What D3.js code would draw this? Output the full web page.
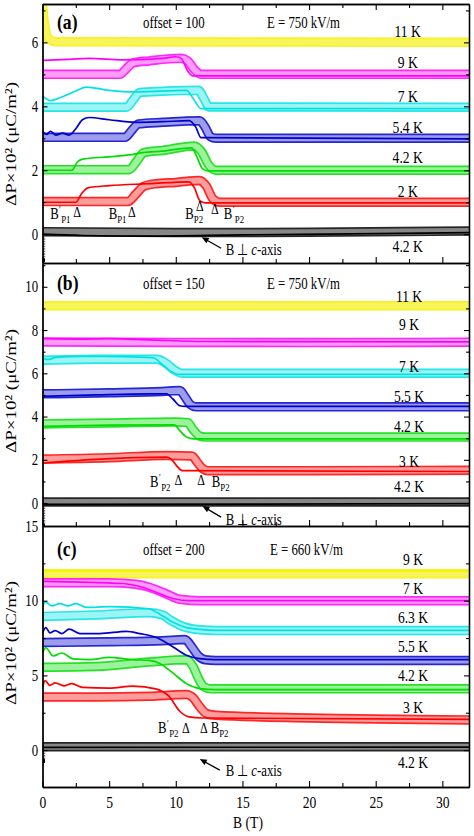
<!DOCTYPE html>
<html><head><meta charset="utf-8">
<script src="https://cdn.jsdelivr.net/npm/d3@7"></script>
<style>body{margin:0;background:#fff}svg{display:block}</style>
</head><body>
<svg id="chart" width="474" height="836"></svg>
<script>
// ---------------- DATA ----------------
const bMajor = [0,5,10,15,20,25,30];
const bMinor = [2.5,7.5,12.5,17.5,22.5,27.5];
const xTickLabels = ['0','5','10','15','20','25','30'];

// Panel (a): offset = 100, E = 750 kV/m
const aTemps = ['11 K','9 K','7 K','5.4 K','4.2 K','2 K','4.2 K'];
const aYMajor = [0,2,4,6];
const aYMinor = [1,3,5,7];
const a11K_band = [[0,7.2],[0.1,6.75],[0.25,6.35],[0.5,6.1],[1,6.02],[32,6.0]];
const a9K_band  = [[0,5.0],[5.8,5.0],[6.3,5.18],[6.8,5.36],[8,5.42],[10.4,5.5],[10.9,5.42],[11.4,5.15],[11.9,5.0],[32,5.0]];
const a9K_line  = [[0,5.44],[2,5.47],[3.5,5.5],[6,5.45],[9,5.5],[10,5.55],[10.4,5.5],[10.9,5.1],[11.3,4.95],[32,4.95]];
const a7K_band  = [[0,3.97],[6.3,3.97],[6.8,4.2],[7.3,4.43],[9,4.47],[11.7,4.5],[12.1,4.25],[12.5,3.98],[32,3.97]];
const a7K_line  = [[0,4.32],[0.6,4.18],[1.5,4.3],[2.5,4.48],[3.3,4.6],[5,4.5],[7,4.45],[10.8,4.5],[11.3,4.25],[11.9,3.93],[32,3.93]];
const a54K_band = [[0,3.03],[6.2,3.03],[6.7,3.25],[7.2,3.45],[9,3.5],[11.8,3.55],[12.2,3.35],[12.6,3.05],[13,3.0],[32,3.0]];
const a54K_line = [[0,3.22],[0.3,3.12],[0.6,3.22],[1.0,3.1],[1.5,3.16],[2.0,3.1],[2.5,3.3],[3.0,3.58],[3.5,3.65],[5,3.58],[7,3.5],[9,3.52],[11,3.55],[11.5,3.35],[11.9,3.02],[32,2.98]];
const a42K_band = [[0,2.02],[6.5,2.02],[7.1,2.3],[7.6,2.55],[9,2.62],[11.4,2.76],[11.9,2.6],[12.5,2.15],[13,2.0],[32,2.0]];
const a42K_line = [[0,2.0],[2.2,2.0],[2.6,2.25],[3,2.35],[5,2.42],[6.5,2.48],[7.5,2.55],[9,2.6],[11.2,2.7],[11.6,2.4],[12,2.05],[12.4,1.98],[32,1.98]];
const a2K_band  = [[0,1.02],[6.4,1.02],[7.0,1.25],[7.6,1.5],[8.5,1.58],[10,1.62],[11.8,1.68],[12.3,1.5],[12.8,1.1],[13.3,1.0],[32,1.0]];
const a2K_line  = [[0,1.0],[2.5,1.0],[2.9,1.25],[3.4,1.45],[5,1.52],[8,1.58],[11,1.64],[11.4,1.45],[11.8,1.05],[12.2,0.98],[32,0.98]];
const aK_black_band = [[0,0.08],[10,0.05],[20,0.06],[32,0.1]];
const aK_black_line = [[0,0.0],[3,-0.04],[8,-0.06],[15,-0.02],[25,0.02],[32,0.05]];
const aInit = [-0.05,-0.75];
const aMarkB = [2.6,6.7,11.8,12.93];
const aMarkLabB = [2.1,6.3,12.05,13.6];
const aMarkNames = [['′','P1'],['','P1'],['','P2'],['′','P2']];

// Panel (b): offset = 150, E = 750 kV/m
const bTemps = ['11 K','9 K','7 K','5.5 K','4.2 K','3 K','4.2 K'];
const bYMajor = [0,2,4,6,8,10];
const bYMinor = [1,3,5,7,9,11];
const b11K_band = [[0,9.12],[32,9.12]];
const b9K_band  = [[0,7.45],[10,7.43],[20,7.42],[32,7.44]];
const b9K_line  = [[0,7.6],[3,7.58],[5,7.6],[8,7.55],[12,7.47],[32,7.45]];
const b7K_band  = [[0,6.6],[4,6.65],[8.6,6.65],[9.3,6.45],[9.9,6.15],[10.5,6.0],[32,6.0]];
const b7K_line  = [[0,6.68],[0.5,6.64],[1,6.74],[3,6.78],[6,6.77],[8.3,6.72],[9,6.4],[9.6,6.1],[10.2,5.95],[32,5.95]];
const b55K_band = [[0,5.05],[5,5.1],[9,5.16],[10.3,5.2],[10.7,4.9],[11.1,4.55],[11.5,4.45],[32,4.45]];
const b55K_line = [[0,4.93],[4,5.0],[8,5.05],[9.3,5.05],[9.8,4.8],[10.3,4.5],[10.7,4.47],[32,4.47]];
const b42K_band = [[0,3.66],[5,3.7],[10,3.75],[10.9,3.72],[11.3,3.4],[11.8,3.1],[12.2,3.05],[32,3.05]];
const b42K_line = [[0,3.55],[5,3.6],[9.9,3.62],[10.3,3.35],[10.8,3.05],[11.3,2.97],[32,2.97]];
const b3K_band  = [[0,2.04],[5,2.1],[9.3,2.2],[11.2,2.18],[11.6,1.9],[12,1.6],[12.4,1.5],[20,1.5],[32,1.52]];
const b3K_line  = [[0,1.85],[4,2.02],[9.3,2.12],[9.7,2.0],[10.1,1.7],[10.5,1.5],[32,1.46]];
const bK_black_band = [[0,0.05],[32,0.05]];
const bK_black_line = [[0,-0.06],[32,-0.03]];
const bInit = [-0.2,-0.95];
const bMarkB = [10.2,11.9];
const bMarkLabB = [9.6,12.7];
const bMarkNames = [['′','P2'],['','P2']];

// Panel (c): offset = 200, E = 660 kV/m
const cTemps = ['9 K','7 K','6.3 K','5.5 K','4.2 K','3 K','4.2 K'];
const cYMajor = [0,5,10,15];
const cYMinor = [2.5,7.5,12.5];
const c9K_band  = [[0,11.8],[32,11.8]];
const c9K_line  = [[0,12.0],[32,12.0]];
const c7K_band  = [[0,11.2],[5,11.2],[7,11.1],[8,10.9],[9.3,10.45],[10.3,10.1],[11.8,10.0],[32,10.0]];
const c7K_line  = [[0,11.3],[6,11.15],[7.5,10.9],[8.7,10.5],[9.8,10.15],[11,10.0],[32,10.0]];
const c63K_band = [[0,8.95],[4,9.05],[8,9.2],[9,9.05],[9.6,8.7],[10.6,8.25],[11.8,8.05],[13,8.0],[32,8.0]];
const c63K_line = [[0,9.65],[0.25,9.9],[0.7,9.65],[1.3,9.8],[1.9,9.65],[2.5,9.8],[3.3,9.55],[5,9.6],[8,9.45],[8.8,9.1],[9.8,8.55],[10.8,8.2],[11.8,8.08],[13,8.02],[32,8.02]];
const c55K_band = [[0,7.2],[5,7.25],[9,7.32],[10.7,7.4],[11.2,6.9],[11.7,6.3],[12.2,6.05],[13,6.0],[32,6.0]];
const c55K_line = [[0,7.85],[0.25,8.2],[0.55,7.85],[0.95,8.0],[1.45,7.8],[2,8.1],[2.8,7.8],[4.3,7.8],[6.3,7.95],[7.3,7.8],[8.5,7.55],[9.8,6.9],[10.8,6.35],[11.8,6.12],[13,6.05],[32,6.05]];
const c42K_band = [[0,5.55],[4,5.6],[8,5.9],[10.8,6.05],[11.3,5.6],[11.7,4.8],[12.1,4.25],[12.6,4.1],[32,4.1]];
const c42K_line = [[0,6.5],[0.25,6.85],[0.8,6.3],[1.45,6.5],[2.3,6.1],[3.5,6.05],[5,6.2],[6.8,6.05],[8,6.0],[8.8,5.8],[9.8,5.15],[10.8,4.45],[11.8,4.12],[13,4.05],[32,4.05]];
const c3K_band  = [[0,3.55],[4,3.55],[8,3.6],[10.8,3.72],[11.3,3.5],[11.8,2.9],[12.3,2.45],[13,2.33],[20,2.15],[32,2.02]];
const c3K_line  = [[0,4.2],[0.2,4.65],[0.55,4.33],[0.95,4.5],[1.6,4.3],[2.2,4.45],[3,4.2],[5,4.15],[6.8,4.28],[8.5,4.1],[9.5,3.6],[10.3,2.6],[11,2.22],[12,2.15],[32,2.05]];
const cK_black_band = [[0,0.22],[32,0.22]];
const cK_black_line = [[0,0.18],[32,0.2]];
const cInit = [0.0,-0.6];
const cMarkB = [10.75,12.1];
const cMarkLabB = [10.2,12.62];
const cMarkNames = [['′','P2'],['','P2']];

// ---------------- DRAWING ----------------
const colors = ['#f4f000','#ff00ff','#00e2e2','#0000cc','#00dd00','#ff0000','#000000'];
const FONT = "'Liberation Serif','Times New Roman',serif";
const SX = 0.8;
const BW = 9.5;
const svg = d3.select('#chart');
const defs = svg.append('defs');
const x = d3.scaleLinear().domain([0,32]).range([42.5,469]);

const panels = [
  {key:'a', top:4, bottom:263, domain:[-0.9,7.2], major:aYMajor, minor:aYMinor, temps:aTemps,
   bands:[a11K_band,a9K_band,a7K_band,a54K_band,a42K_band,a2K_band,aK_black_band],
   lines:[null,a9K_line,a7K_line,a54K_line,a42K_line,a2K_line,aK_black_line],
   init:aInit, markB:aMarkB, markLabB:aMarkLabB, markNames:aMarkNames,
   markSide:['l','l','l','r'], markDy:[-17,-17,-23,-20], markLabDy:-15,
   labB:27.4, labDy:[-5,-6,-5,-5,-7,-5,21],
   letter:'(a)', offset:'offset = 100', field:'E = 750 kV/m', headY:28, fieldX:267,
   arrow:{tailB:13.4, tailDy:14, tipB:11.95, tipDy:3, textDy:21}, yLab:144},
  {key:'b', top:263, bottom:526, domain:[-1.06,11.1], major:bYMajor, minor:bYMinor, temps:bTemps,
   bands:[b11K_band,b9K_band,b7K_band,b55K_band,b42K_band,b3K_band,bK_black_band],
   lines:[null,b9K_line,b7K_line,b55K_line,b42K_line,b3K_line,bK_black_line],
   init:bInit, markB:bMarkB, markLabB:bMarkLabB, markNames:bMarkNames,
   markSide:['l','r'], markDy:[-18,-18], markLabDy:-16,
   labB:27.5, labDy:[-4,-12,-1,-5,-5,-3,-10],
   letter:'(b)', offset:'offset = 150', field:'E = 750 kV/m', headY:289, fieldX:267,
   arrow:{tailB:13.4, tailDy:14, tipB:12.0, tipDy:3, textDy:22}, yLab:391},
  {key:'c', top:526, bottom:787, domain:[-2.47,15], major:cYMajor, minor:cYMinor, temps:cTemps,
   bands:[c9K_band,c7K_band,c63K_band,c55K_band,c42K_band,c3K_band,cK_black_band],
   lines:[c9K_line,c7K_line,c63K_line,c55K_line,c42K_line,c3K_line,cK_black_line],
   init:cInit, markB:cMarkB, markLabB:cMarkLabB, markNames:cMarkNames,
   markSide:['l','r'], markDy:[-17,-17], markLabDy:-17,
   labB:27.8, labDy:[-9,-7,-8,-8,-8,-7,21],
   letter:'(c)', offset:'offset = 200', field:'E = 660 kV/m', headY:555, fieldX:270,
   arrow:{tailB:13.3, tailDy:20, tipB:11.8, tipDy:9, textDy:26}, yLab:643}
];

function txt(g, px, py, s, size, anchor, weight){
  return g.append('text').attr('transform',`translate(${px},${py}) scale(${SX},1)`)
    .attr('font-family',FONT).attr('font-size',size||15).attr('text-anchor',anchor||'start')
    .attr('font-weight',weight||'normal').attr('fill','#000').text(s);
}
function bLabel(g, px, py, prime, sub, anchor){
  const t = g.append('text').attr('transform',`translate(${px},${py}) scale(${SX},1)`)
    .attr('font-family',FONT).attr('font-size',16).attr('text-anchor',anchor).attr('fill','#000');
  t.append('tspan').text('B');
  if (prime){
    t.append('tspan').attr('font-size',10).attr('dy',-6).attr('dx',0.5).text(prime);
    t.append('tspan').attr('font-size',11).attr('dy',10).attr('dx',0.5).text(sub);
  } else {
    t.append('tspan').attr('font-size',11).attr('dy',4).text(sub);
  }
}

panels.forEach(p=>{
  const y = d3.scaleLinear().domain(p.domain).range([p.bottom,p.top]);
  const g = svg.append('g');
  const clipId = 'clip-'+p.key;
  defs.append('clipPath').attr('id',clipId).append('rect')
    .attr('x',x(0)).attr('y',p.top).attr('width',x(32)-x(0)).attr('height',p.bottom-p.top);
  const plot = g.append('g').attr('clip-path',`url(#${clipId})`);
  const line = d3.line().x(d=>x(d[0])).y(d=>y(d[1])).curve(d3.curveMonotoneX);

  // bands (open-circle sweeps)
  p.bands.forEach((b,i)=>{
    plot.append('path').attr('d',line(b)).attr('fill','none').attr('stroke',colors[i])
      .attr('stroke-width',BW).attr('stroke-linejoin','round').attr('stroke-opacity',0.85);
    plot.append('path').attr('d',line(b)).attr('fill','none').attr('stroke','#fff')
      .attr('stroke-width',BW-3.4).attr('stroke-linejoin','round')
      .attr('stroke-opacity', i===0 ? 0.25 : (i===6 ? 0.45 : 0.55));
  });
  // thin lines (other sweep)
  p.lines.forEach((l,i)=>{
    if(!l) return;
    plot.append('path').attr('d',line(l)).attr('fill','none').attr('stroke',colors[i])
      .attr('stroke-width',1.7).attr('stroke-linejoin','round');
  });
  // initial points at B = 0
  plot.append('line').attr('x1',x(0)+1.5).attr('x2',x(0)+1.5)
    .attr('y1',y(p.init[0])).attr('y2',y(p.init[1]))
    .attr('stroke','#777').attr('stroke-width',2.5).attr('stroke-dasharray','1.5 1');
  plot.append('rect').attr('x',x(0)).attr('width',2.5)
    .attr('y',y(p.init[1])).attr('height',4).attr('fill','#000');

  // axes
  const axG = g.append('g').attr('font-family',FONT);
  const bottom = axG.append('g').attr('transform',`translate(0,${p.bottom})`)
    .call(d3.axisBottom(x).tickValues(bMajor).tickSize(-6).tickSizeOuter(0)
      .tickFormat((d,i)=> p.key==='c' ? xTickLabels[i] : ''));
  axG.append('g').attr('transform',`translate(0,${p.bottom})`)
    .call(d3.axisBottom(x).tickValues(bMinor).tickSize(-4).tickSizeOuter(0).tickFormat(''));
  if (p.key==='a'){
    axG.append('g').attr('transform',`translate(0,${p.top})`)
      .call(d3.axisTop(x).tickValues(bMajor).tickSize(-6).tickSizeOuter(0).tickFormat(''));
    axG.append('g').attr('transform',`translate(0,${p.top})`)
      .call(d3.axisTop(x).tickValues(bMinor).tickSize(-4).tickSizeOuter(0).tickFormat(''));
  }
  const left = axG.append('g').attr('transform',`translate(${x(0)},0)`)
    .call(d3.axisLeft(y).tickValues(p.major).tickSize(-5).tickSizeOuter(0).tickPadding(5.5).tickFormat(d3.format('d')));
  axG.append('g').attr('transform',`translate(${x(0)},0)`)
    .call(d3.axisLeft(y).tickValues(p.minor).tickSize(-3).tickSizeOuter(0).tickFormat(''));
  axG.append('g').attr('transform',`translate(${x(32)},0)`)
    .call(d3.axisRight(y).tickValues(p.major).tickSize(-5).tickSizeOuter(0).tickFormat(''));
  axG.append('g').attr('transform',`translate(${x(32)},0)`)
    .call(d3.axisRight(y).tickValues(p.minor).tickSize(-3).tickSizeOuter(0).tickFormat(''));
  axG.selectAll('path.domain').attr('stroke','#000').attr('stroke-width',1.3);
  axG.selectAll('.tick line').attr('stroke','#000').attr('stroke-width',1.1);
  axG.selectAll('.tick text').attr('font-family',FONT).attr('fill','#000');
  left.selectAll('text').attr('font-size',16).attr('transform',`scale(${SX},1)`);
  bottom.selectAll('text').attr('font-size',17).attr('y',21).attr('dy',null).attr('transform',`scale(${SX},1)`);

  // header texts
  txt(g, 57, p.headY+1, p.letter, 22, 'start', 'bold');
  txt(g, 143, p.headY, p.offset, 16);
  txt(g, p.fieldX, p.headY, p.field, 16);

  // temperature labels
  p.temps.forEach((t,i)=>{
    const b = p.bands[i];
    const lvl = b[b.length-1][1];
    txt(g, x(p.labB), y(lvl)+p.labDy[i], t, 17, 'middle');
  });

  // transition markers
  const y0 = y(0);
  p.markB.forEach((mb,i)=>{
    txt(g, x(mb), y0+p.markDy[i], 'Δ', 15, 'middle');
    bLabel(g, x(p.markLabB[i]), y0+p.markLabDy, p.markNames[i][0], p.markNames[i][1],
      p.markSide[i]==='l' ? 'end' : 'start');
  });

  // B ⊥ c-axis arrow
  const a = p.arrow;
  const tx = x(a.tailB), ty = y0+a.tailDy, hx = x(a.tipB), hy = y0+a.tipDy;
  const ang = Math.atan2(hy-ty, hx-tx);
  const L = 7, Wd = 3;
  g.append('line').attr('x1',tx).attr('y1',ty).attr('x2',hx-Math.cos(ang)*4).attr('y2',hy-Math.sin(ang)*4)
    .attr('stroke','#000').attr('stroke-width',1.3);
  const bx = hx-Math.cos(ang)*L, by = hy-Math.sin(ang)*L;
  g.append('path').attr('d',`M${hx},${hy}L${bx-Math.sin(ang)*Wd},${by+Math.cos(ang)*Wd}L${bx+Math.sin(ang)*Wd},${by-Math.cos(ang)*Wd}Z`).attr('fill','#000');
  const at = g.append('text').attr('transform',`translate(${x(13.75)},${y0+a.textDy}) scale(${SX},1)`)
    .attr('font-family',FONT).attr('font-size',16).attr('fill','#000');
  at.append('tspan').text('B ⊥ ');
  at.append('tspan').attr('font-style','italic').text('c');
  at.append('tspan').text('-axis');

  // y-axis title
  svg.append('text').attr('transform',`translate(16,${p.yLab}) scale(${SX},1) rotate(-90)`)
    .attr('font-family',FONT).attr('font-size',19).attr('text-anchor','middle').attr('fill','#000')
    .text('ΔP×10² (μC/m²)');
});

// x-axis title
txt(svg, 248, 828, 'B (T)', 17, 'middle');
</script>
</body></html>
